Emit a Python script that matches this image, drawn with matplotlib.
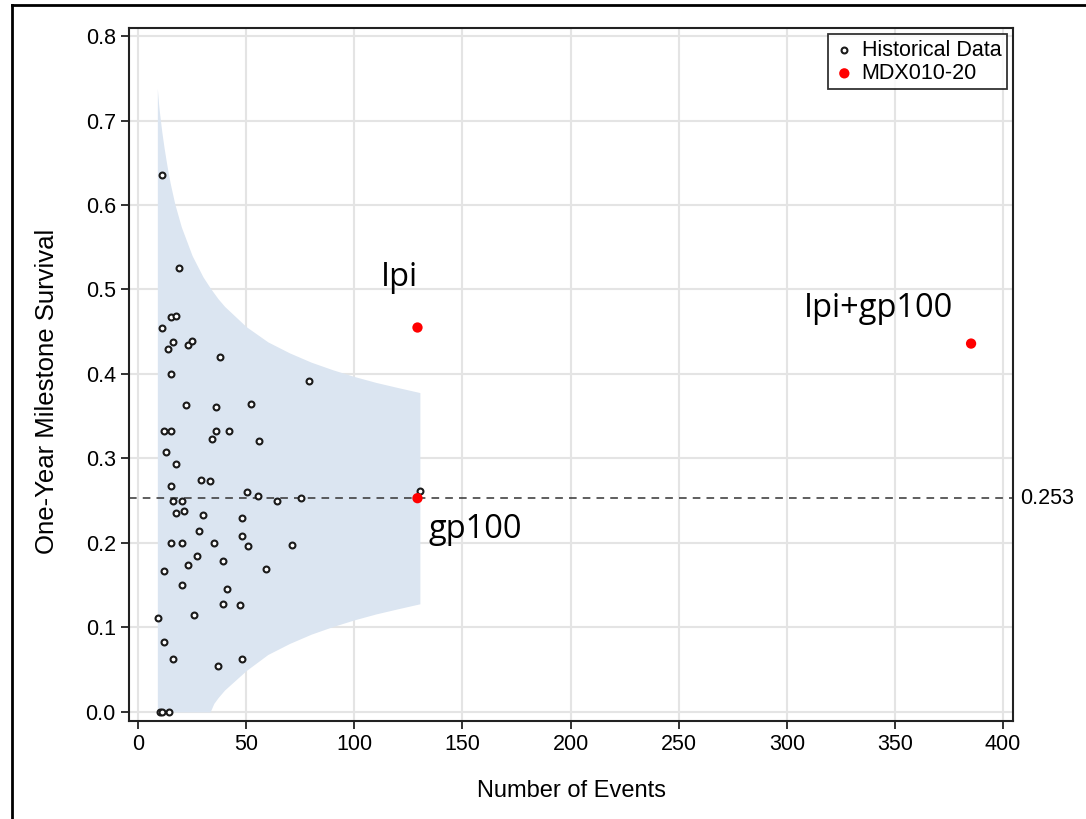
import matplotlib
matplotlib.use("Agg")
import matplotlib.pyplot as plt
from matplotlib.lines import Line2D

# --- historical trials: number of events vs one-year milestone survival
hist_events = [11.2, 19.0, 15.1, 17.3, 11.2, 16.2, 23.1, 25.1, 14.0, 38.1,
               15.1, 79.1, 22.2, 36.1, 52.1, 12.2, 15.3, 36.1, 41.9, 34.4,
               56.0, 13.1, 17.3, 29.0, 33.1, 15.1, 50.3, 55.3, 64.3, 75.2,
               16.2, 20.2, 17.3, 21.3, 30.1, 48.2, 28.1, 48.2, 15.1, 20.2,
               35.0, 51.0, 71.2, 27.3, 39.2, 23.3, 12.2, 59.2, 20.2, 41.2,
               39.3, 47.0, 9.2, 26.0, 12.2, 16.2, 48.2, 37.1, 9.9, 11.0,
               14.2, 130.4]
hist_surv = [0.636, 0.526, 0.467, 0.469, 0.454, 0.438, 0.434, 0.439, 0.429, 0.420,
             0.400, 0.392, 0.363, 0.361, 0.365, 0.333, 0.333, 0.333, 0.333, 0.323,
             0.321, 0.308, 0.293, 0.275, 0.273, 0.267, 0.260, 0.255, 0.250, 0.253,
             0.250, 0.250, 0.235, 0.238, 0.233, 0.229, 0.214, 0.208, 0.200, 0.200,
             0.200, 0.196, 0.197, 0.185, 0.179, 0.174, 0.167, 0.169, 0.150, 0.146,
             0.128, 0.127, 0.111, 0.115, 0.083, 0.0625, 0.0625, 0.054, 0.0, 0.0,
             0.0, 0.262]

# --- MDX010-20 arms
mdx_events = [129.2, 129.2, 385.2]
mdx_surv = [0.455, 0.253, 0.436]
mdx_labels = ["Ipi", "gp100", "Ipi+gp100"]

# --- shaded band
band_n = [8.9, 9.5, 10, 11, 12, 13, 14, 15, 17, 20, 25, 30, 33.3, 35, 37, 40,
          50, 60, 70, 80, 90, 100, 110, 120, 130.3]
band_hi = [0.738, 0.719, 0.707, 0.686, 0.668, 0.652, 0.637, 0.624, 0.601, 0.574,
           0.540, 0.515, 0.502, 0.496, 0.489, 0.480, 0.456, 0.438, 0.425, 0.414,
           0.405, 0.397, 0.390, 0.384, 0.378]
band_lo = [0, 0, 0, 0, 0, 0, 0, 0, 0, 0, 0, 0, 0, 0.010, 0.017, 0.026,
           0.049, 0.068, 0.081, 0.092, 0.101, 0.109, 0.116, 0.122, 0.128]

ref_level = 0.253

plt.rcParams['font.family'] = ['Liberation Sans', 'DejaVu Sans']

fig = plt.figure(figsize=(10.86, 8.19), dpi=100)
ax = fig.add_axes([0.1188, 0.1197, 0.8140, 0.8461])

ax.fill_between(band_n, band_lo, band_hi, color='#dbe5f1', linewidth=0, zorder=1)
ax.axhline(ref_level, color='#333333', linestyle=(0, (5, 4)), linewidth=1.1, zorder=2)

ax.scatter(hist_events, hist_surv, s=18, facecolors='white', edgecolors='#1a1a1a',
           linewidths=1.5, zorder=3, label='Historical Data')
ax.scatter(mdx_events, mdx_surv, s=55, color='#ff0000', edgecolors='none',
           zorder=4, label='MDX010-20')

# --- labels of the arms
txt_kw = dict(fontsize=23.5, family=['Open Sans', 'DejaVu Sans'], color='black')
ax.text(121, 0.514, mdx_labels[0], ha='center', va='center', **txt_kw)
ax.text(134.3, 0.216, mdx_labels[1], ha='left', va='center', **txt_kw)
ax.text(342.5, 0.477, mdx_labels[2], ha='center', va='center', **txt_kw)

ax.text(1.008, (ref_level + 0.0107) / 0.8202, "0.253", transform=ax.transAxes,
        ha='left', va='center', fontsize=15.5)

ax.set_xlim(-4.2, 404.6)
ax.set_ylim(-0.0107, 0.8095)
ax.set_xticks(range(0, 401, 50))
ax.set_yticks([0.0, 0.1, 0.2, 0.3, 0.4, 0.5, 0.6, 0.7, 0.8])
ax.set_yticklabels(['%.1f' % v for v in ax.get_yticks()])
ax.tick_params(labelsize=15.5, length=6, width=1.3, color='#222222')
ax.grid(True, color='#e4e4e4', linewidth=1.5, zorder=0)
ax.set_axisbelow(True)
for sp in ax.spines.values():
    sp.set_linewidth(1.5)
    sp.set_color('#222222')

ax.set_xlabel('Number of Events', fontsize=17, labelpad=18)
ax.set_ylabel('One-Year Milestone Survival', fontsize=18.5, labelpad=19)
ax.yaxis.label.set_y(0.476)

leg = ax.legend(loc='upper right', fontsize=15.5, frameon=True, fancybox=False,
                edgecolor='black', handletextpad=0.3, borderpad=0.25,
                labelspacing=0.1, handlelength=1.0, borderaxespad=0.3)
leg.get_frame().set_linewidth(1.3)

# --- frame of the screenshot (top and left edge)
fig.add_artist(Line2D([12 / 1086, 1], [1 - 5 / 819, 1 - 5 / 819], color='black',
                      linewidth=2, transform=fig.transFigure))
fig.add_artist(Line2D([12 / 1086, 12 / 1086], [0, 1 - 5 / 819], color='black',
                      linewidth=2, transform=fig.transFigure))

fig.savefig('out.png', dpi=100)
